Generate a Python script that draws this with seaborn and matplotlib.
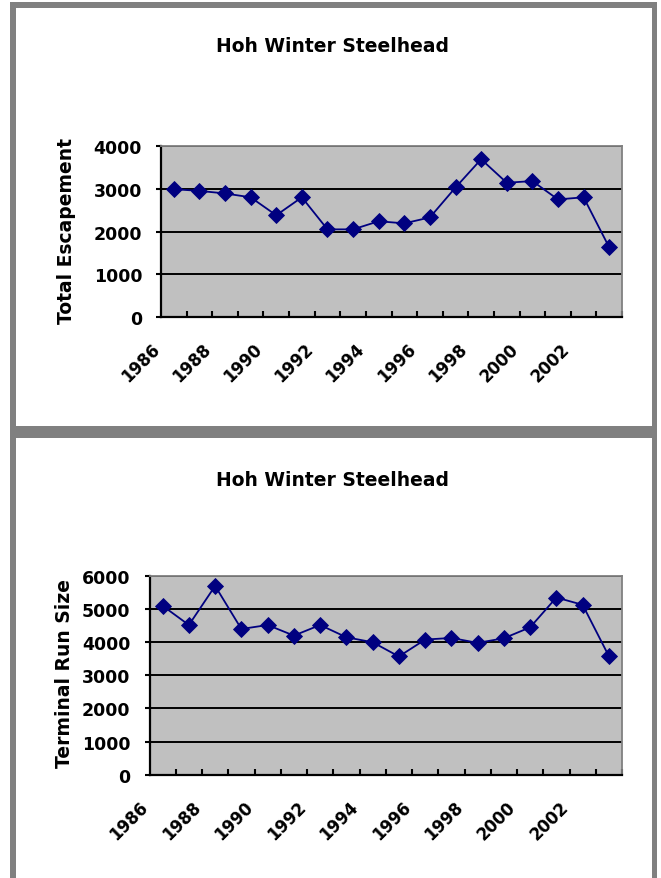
import matplotlib
matplotlib.use("Agg")
import matplotlib.pyplot as plt
import matplotlib.transforms as mtransforms
from matplotlib.patches import Rectangle
import seaborn as sns

# Hoh River winter steelhead, run years 1986-2003
years = list(range(1986, 2004))
escapement = [2990, 2950, 2890, 2800, 2380, 2800, 2050, 2050, 2240,
              2190, 2330, 3030, 3690, 3140, 3180, 2750, 2800, 1630]
run_size = [5100, 4520, 5700, 4400, 4520, 4200, 4520, 4150, 4000,
            3570, 4080, 4130, 3980, 4120, 4450, 5350, 5130, 3580]
label_years = list(range(1986, 2003, 2))
title = "Hoh Winter Steelhead"

sns.set_style("white")
plt.rcParams["font.family"] = ["DejaVu Sans"]
plt.rcParams["font.weight"] = "bold"
plt.rcParams["text.color"] = "black"
plt.rcParams["xtick.color"] = "black"
plt.rcParams["ytick.color"] = "black"
plt.rcParams["xtick.labelcolor"] = "black"
plt.rcParams["ytick.labelcolor"] = "black"

W, H = 661, 879
DPI = 100
fig = plt.figure(figsize=(W / DPI, H / DPI), dpi=DPI)
fig.patch.set_facecolor("white")

NAVY = "#000080"
FRAME = "#808080"
PLOT_BG = "#C0C0C0"


def px_rect(x0, y0, x1, y1):
    """Axes rectangle in figure fractions from pixel edges (y measured from top)."""
    return [x0 / W, (H - y1) / H, (x1 - x0) / W, (y1 - y0) / H]


def draw_panel(rect, values, ymax, ylabel, title_y, ylabel_xy):
    ax = fig.add_axes(rect)
    ax.set_facecolor(PLOT_BG)
    sns.lineplot(x=years, y=values, ax=ax, color=NAVY, linewidth=1.3,
                 marker="D", markersize=7.8, markeredgecolor=NAVY,
                 markeredgewidth=0.6, zorder=3)
    ax.set_xlim(years[0] - 0.5, years[-1] + 0.5)
    ax.set_ylim(0, ymax)
    ax.set_yticks(range(0, ymax + 1, 1000))
    ax.set_yticklabels([str(v) for v in range(0, ymax + 1, 1000)],
                       fontsize=12.5, fontweight="bold", color="black")
    ax.yaxis.grid(True, color="black", linewidth=1.4)
    ax.xaxis.grid(False)
    ax.set_axisbelow(True)

    # category boundaries carry the tick marks, labels sit on even years
    ax.set_xticks([y + 0.5 for y in years], minor=True)
    ax.set_xticks(label_years)
    ax.set_xticklabels([str(y) for y in label_years], fontsize=12,
                       fontweight="bold", rotation=45, ha="right",
                       va="center", rotation_mode="anchor", color="black")
    ax.tick_params(axis="x", which="major", length=0, pad=21, bottom=True)
    ax.tick_params(axis="x", which="minor", direction="in", length=4.5,
                   width=1.5, color="black", bottom=True)
    ax.tick_params(axis="y", which="major", direction="out", length=3.6,
                   width=1.5, color="black", pad=10, left=True)
    shift = mtransforms.ScaledTranslation(-17 / DPI, 0, fig.dpi_scale_trans)
    for lab in ax.get_xticklabels():
        lab.set_transform(lab.get_transform() + shift)

    for side in ("left", "bottom"):
        ax.spines[side].set_color("black")
        ax.spines[side].set_linewidth(1.6)
    for side in ("top", "right"):
        ax.spines[side].set_color(FRAME)
        ax.spines[side].set_linewidth(1.3)
    ax.set_xlabel("")
    ax.set_ylabel("")

    fig.text(333 / W, (H - title_y) / H, title, ha="center", va="baseline",
             fontsize=13.5, fontweight="bold", color="black")
    fig.text(ylabel_xy[0] / W, (H - ylabel_xy[1]) / H, ylabel, rotation=90,
             ha="center", va="center", fontsize=13.5, fontweight="bold",
             color="black")
    return ax


draw_panel(px_rect(161, 147, 622, 318), escapement, 4000,
           "Total Escapement", 52, (66, 231))
draw_panel(px_rect(149.5, 577, 622, 775.7), run_size, 6000,
           "Terminal Run Size", 486, (65, 674))


# grey frames around the two chart panels
def frame_bar(x0, y0, x1, y1):
    fig.add_artist(Rectangle((x0 / W, (H - y1) / H), (x1 - x0) / W,
                             (y1 - y0) / H, transform=fig.transFigure,
                             facecolor=FRAME, edgecolor="none", zorder=10))


frame_bar(10, 3, 657, 9)
frame_bar(10, 427, 657, 439)
frame_bar(10, 3, 16, 879)
frame_bar(651.5, 3, 657, 879)

fig.savefig("out.png", dpi=DPI, facecolor="white")
